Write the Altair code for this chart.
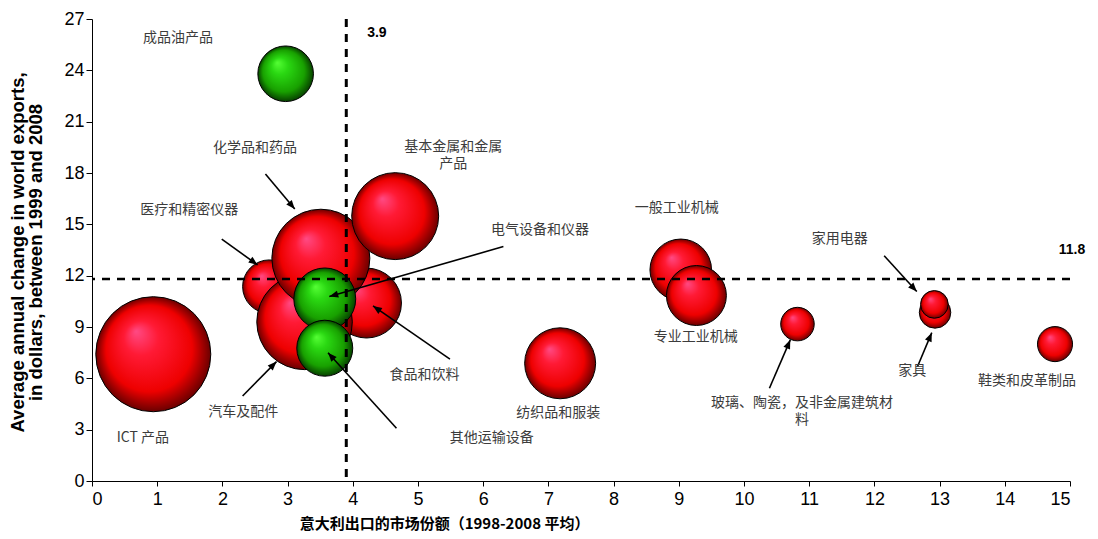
import math
import altair as alt
import pandas as pd

# ---------------- data ----------------
names = ["医疗和精密仪器", "食品和饮料", "汽车及配件", "化学品和药品", "基本金属和金属产品",
         "ICT 产品", "纺织品和服装", "一般工业机械", "专业工业机械", "玻璃、陶瓷，及非金属建筑材料",
         "家具", "家用电器", "鞋类和皮革制品", "成品油产品", "电气设备和仪器", "其他运输设备"]
groups = ["red"] * 13 + ["green"] * 3
share = [2.72, 4.21, 3.26, 3.51, 4.65, 0.94, 7.18, 9.03, 9.27, 10.82, 12.93, 12.92, 14.77, 2.97, 3.57, 3.57]
change = [11.36, 10.40, 9.30, 13.02, 15.48, 7.41, 6.88, 12.34, 10.84, 9.17, 9.85, 10.32, 8.00, 23.8, 10.64, 7.76]
weight = [21.6, 37.0, 69.0, 72.6, 57.2, 100.0, 38.1, 28.7, 27.2, 8.5, 7.5, 5.8, 9.3, 23.4, 29.0, 23.7]

label_text = ["成品油产品", "化学品和药品", "医疗和精密仪器", "基本金属和金属\n产品", "电气设备和仪器",
              "一般工业机械", "专业工业机械", "家用电器", "玻璃、陶瓷，及非金属建筑材\n料", "家具",
              "鞋类和皮革制品", "纺织品和服装", "食品和饮料", "其他运输设备", "汽车及配件", "ICT 产品"]
label_x = [1.32, 2.50, 1.49, 5.54, 6.87, 8.97, 9.26, 11.47, 10.89, 12.58, 14.34, 7.15, 5.10, 6.13, 2.32, 0.78]
label_y = [25.9, 19.47, 15.85, 19.5, 14.68, 15.96, 8.42, 14.15, 4.55, 6.43, 5.85, 3.98, 6.2, 2.5, 4.04, 2.5]

arrow_x1 = [2.66, 1.99, 6.31, 5.49, 4.67, 2.31, 10.39, 12.15, 12.66]
arrow_y1 = [17.94, 14.13, 13.70, 7.12, 3.08, 4.97, 5.42, 13.16, 6.68]
arrow_x2 = [3.11, 2.54, 3.64, 4.31, 3.62, 2.83, 10.71, 12.65, 12.88]
arrow_y2 = [15.89, 12.63, 10.78, 10.23, 7.50, 6.98, 8.25, 11.07, 8.67]

avg_share = 3.9
avg_change = 11.8

x_ticks = list(range(0, 16))
y_ticks = list(range(0, 28, 3))

# ---------------- layout ----------------
W, H = 978, 462
XMAX, YMAX = 15, 27
MAX_SIZE = (2 * 57.5) ** 2  # vega circle: size = (diameter)^2
SANS = "Liberation Sans"
CJK = "Noto Sans CJK SC"

bub = pd.DataFrame({"name": names, "g": groups, "x": share, "y": change, "w": weight})
lab = pd.DataFrame({"t": label_text, "lx": label_x, "ly": label_y})
px_x, px_y = W / XMAX, H / YMAX
arr = pd.DataFrame({"x1": arrow_x1, "y1": arrow_y1, "x2": arrow_x2, "y2": arrow_y2})
arr["angle"] = [
    math.degrees(math.atan2((b - a) * px_x, (d - c) * px_y)) % 360
    for a, b, c, d in zip(arr.x1, arr.x2, arr.y1, arr.y2)
]
refs = pd.DataFrame({"vx": [avg_share], "vy": [avg_change]})
ref_labels = pd.DataFrame({"t": [str(avg_share), str(avg_change)], "lx": [4.37, 15.03], "ly": [26.2, 13.5]})

xscale = alt.Scale(domain=[0, XMAX], nice=False, zero=True)
yscale = alt.Scale(domain=[0, YMAX], nice=False, zero=True)

xaxis = alt.Axis(values=x_ticks, format="d", title="意大利出口的市场份额（1998-2008 平均）", grid=False,
                 labelFont=SANS, labelFontSize=18, labelColor="black", labelPadding=4,
                 tickSize=5, tickColor="black", domainColor="black",
                 titleFont=CJK, titleFontSize=15, titleFontWeight="bold", titleColor="black",
                 titleX=352, titleY=42, titleBaseline="middle", titleAlign="center", titleAnchor="start")
yaxis = alt.Axis(values=y_ticks, format="d",
                 title=["Average annual change in world exports,", "in dollars, between 1999 and 2008"],
                 grid=False, labelFont=SANS, labelFontSize=18, labelColor="black", labelPadding=2,
                 tickSize=6, tickColor="black", domainColor="black",
                 titleFont=SANS, titleFontSize=18.5, titleFontWeight="bold", titleColor="black",
                 titleLineHeight=18, titleX=-84, titleY=H / 2 + 2, titleAngle=270,
                 titleBaseline="top", titleAlign="center", titleAnchor="start")


def sphere(hi, mid, main, edge):
    return {"gradient": "radial", "x1": 0.35, "y1": 0.3, "r1": 0.0,
            "x2": 0.5, "y2": 0.5, "r2": 0.5,
            "stops": [{"offset": 0.0, "color": hi}, {"offset": 0.3, "color": mid},
                      {"offset": 0.75, "color": main}, {"offset": 1.0, "color": edge}]}


size_enc = alt.Size("w:Q", scale=alt.Scale(type="linear", domain=[0, 100], range=[0, MAX_SIZE], zero=True), legend=None)

# axis carrier layer (draws nothing visible)
axes = alt.Chart(bub).mark_point(opacity=0).encode(
    x=alt.X("x:Q", scale=xscale, axis=xaxis),
    y=alt.Y("y:Q", scale=yscale, axis=yaxis),
)

red = alt.Chart(bub).transform_filter(alt.datum.g == "red").mark_circle(
    fill=sphere("#ff4a85", "#ff1a35", "#ee0000", "#6a0000"), stroke="black", strokeWidth=1, opacity=1
).encode(x="x:Q", y="y:Q", size=size_enc)

green = alt.Chart(bub).transform_filter(alt.datum.g == "green").mark_circle(
    fill=sphere("#55ff35", "#2ad812", "#18a000", "#074000"), stroke="black", strokeWidth=1, opacity=1
).encode(x="x:Q", y="y:Q", size=size_enc)

vline = alt.Chart(refs).mark_rule(color="black", strokeWidth=3, strokeDash=[8, 7]).encode(x="vx:Q")
hline = alt.Chart(refs).mark_rule(color="black", strokeWidth=2.5, strokeDash=[8, 7]).encode(y="vy:Q")

rules = alt.Chart(arr).mark_rule(color="black", strokeWidth=1.6).encode(
    x="x1:Q", y="y1:Q", x2="x2:Q", y2="y2:Q")
heads = alt.Chart(arr).mark_point(shape="M0,0L-0.4,1L0.4,1Z", filled=True, color="black",
                                  opacity=1, size=320).encode(
    x="x2:Q", y="y2:Q", angle=alt.Angle("angle:Q", scale=None))

labels = alt.Chart(lab).mark_text(font=CJK, fontSize=14, color="#3c3c3c", lineBreak="\n",
                                  lineHeight=17, align="center", baseline="middle").encode(
    x="lx:Q", y="ly:Q", text="t:N")

reflab = alt.Chart(ref_labels).mark_text(font=SANS, fontSize=14, fontWeight="bold", color="black",
                                         align="center", baseline="middle").encode(
    x="lx:Q", y="ly:Q", text="t:N")

chart = alt.layer(axes, red, green, vline, hline, rules, heads, labels, reflab).properties(
    width=W, height=H,
    autosize=alt.AutoSizeParams(type="none"),
    padding={"left": 84, "top": 11, "right": 20, "bottom": 50},
).configure_view(stroke=None).configure_axis(domainWidth=1, tickWidth=1)

chart.save("out.html", embed_options={"renderer": "svg", "actions": False})
